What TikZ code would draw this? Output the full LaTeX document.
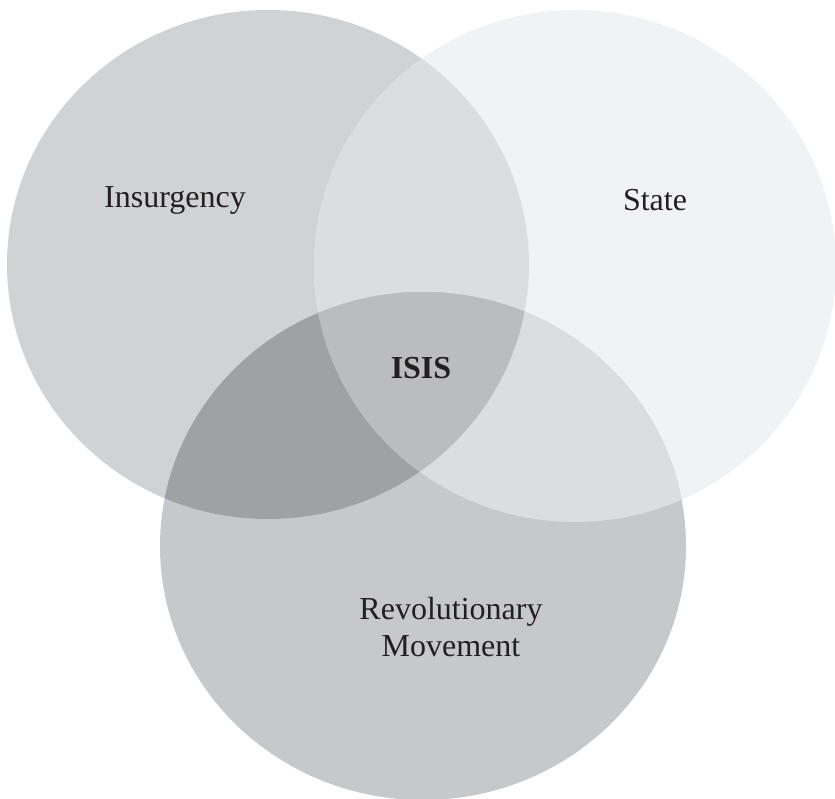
\documentclass[tikz,border=0pt]{standalone}
\usepackage{fontspec}
\setmainfont{Liberation Serif}
\definecolor{insC}{HTML}{D1D2D4}
\definecolor{staC}{HTML}{F1F2F4}
\definecolor{revC}{HTML}{C7C8CA}
\definecolor{isC}{HTML}{DCDDDF}
\definecolor{irC}{HTML}{A0A1A4}
\definecolor{srC}{HTML}{DCDDDF}
\definecolor{isrC}{HTML}{BBBCBF}
\definecolor{txtC}{HTML}{231F20}
\tikzset{
  lbl/.style={text=txtC, font=\fontsize{32}{37}\selectfont, align=center, inner sep=0pt},
  lblbold/.style={lbl, font=\fontsize{32}{37}\selectfont\bfseries}
}
\begin{document}
\begin{tikzpicture}[x=1pt,y=-1pt]
\useasboundingbox (0,0) rectangle (835,799);
% the three sets
\def\insP{(268,264.5) ellipse [x radius=261pt, y radius=254.5pt]}
\def\staP{(575,266) ellipse [x radius=261pt, y radius=256pt]}
\def\revP{(423,546) ellipse [x radius=263pt, y radius=254pt]}
\fill[insC] \insP;
\fill[staC] \staP;
\fill[revC] \revP;
% pairwise overlaps
\begin{scope}
  \clip \insP;
  \fill[isC] \staP;
\end{scope}
\begin{scope}
  \clip \insP;
  \fill[irC] \revP;
\end{scope}
\begin{scope}
  \clip \staP;
  \fill[srC] \revP;
\end{scope}
% common core
\begin{scope}
  \clip \insP;
  \clip \staP;
  \fill[isrC] \revP;
\end{scope}
% labels
\node[lbl] (insurgency) at (175,200) {Insurgency};
\node[lbl] (state) at (655,200) {State};
\node[lblbold] (isis) at (421,368) {ISIS};
\node[lbl] (revolutionary) at (451,627) {Revolutionary\\Movement};
\end{tikzpicture}
\end{document}
